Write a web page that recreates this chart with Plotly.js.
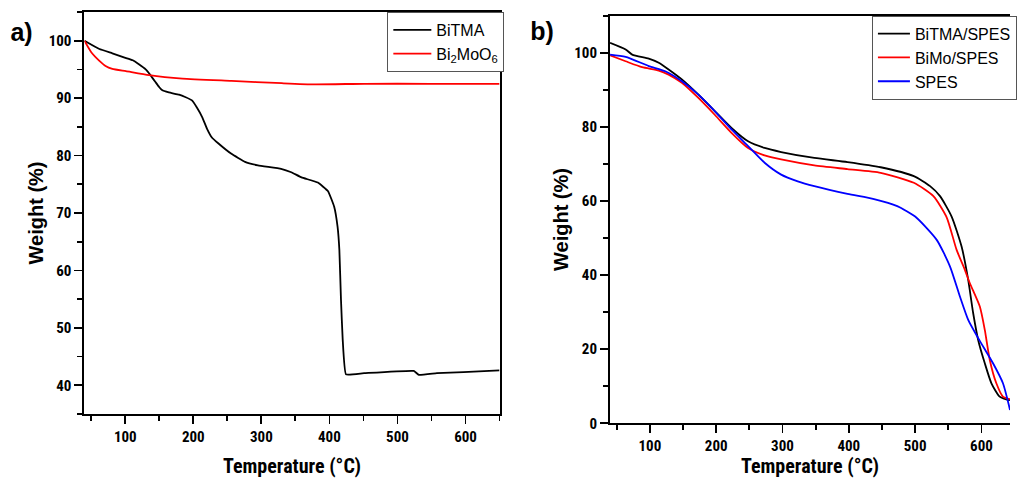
<!DOCTYPE html>
<html>
<head>
<meta charset="utf-8">
<script src="https://cdn.plot.ly/plotly-3.0.1.min.js"></script>
<style>
html,body{margin:0;padding:0;background:#fff;}
#wrap{position:relative;width:1017px;height:478px;}
#chart{width:1017px;height:478px;}
.panel{position:absolute;transform:translate(-50%,-50%);font-family:'Liberation Sans',Arial,sans-serif;font-weight:bold;font-size:25px;line-height:1;color:#000;}
</style>
</head>
<body>
<div id="wrap">
<div id="chart"></div>
<div class="panel" style="left:21.5px;top:32px;">a)</div>
<div class="panel" style="left:542px;top:31px;">b)</div>
</div>
<script>
// Panel a) TGA data
const tempBiTMA = [40, 62, 81, 98, 111, 120, 130, 137, 145, 150, 154, 164, 179, 188, 198, 205, 213, 220, 227, 237, 256, 276, 295, 329, 344, 359, 383, 398, 407, 412, 414.6, 417, 419.5, 424.3, 451, 524, 531.4, 558, 597, 650];
const wBiTMA    = [100, 98.55, 97.8, 97.1, 96.6, 95.9, 95.0, 94.0, 92.7, 91.9, 91.4, 91.0, 90.6, 90.2, 89.6, 88.4, 86.7, 84.7, 83.2, 82.1, 80.3, 78.9, 78.3, 77.7, 77.1, 76.2, 75.3, 73.8, 71.1, 67.6, 63.6, 54.9, 48.0, 41.9, 42.1, 42.5, 41.8, 42.1, 42.3, 42.6];
const tempBiMoO6 = [40, 50, 62, 71, 81, 101, 135, 184, 256, 330, 378, 451, 548, 650];
const wBiMoO6    = [100, 98.0, 96.5, 95.6, 95.1, 94.7, 94.0, 93.4, 93.0, 92.6, 92.4, 92.5, 92.5, 92.5];

// Panel b) TGA data
const tempBiTMASPES = [40, 63.5, 73.4, 98.4, 113.4, 128.3, 148.3, 173.2, 198.2, 223.1, 248.1, 273, 298, 348, 398, 448, 498, 522.5, 537.5, 555, 570, 580, 587.5, 595, 605, 615, 627.4, 639.8, 643];
const wBiTMASPES    = [102.7, 100.9, 99.5, 98.4, 97.3, 95.5, 92.8, 88.7, 84.2, 79.7, 76.1, 74.3, 73.2, 71.6, 70.5, 69.1, 66.7, 64.0, 61.3, 55.8, 47.7, 38.7, 29.7, 22.5, 16.2, 10.8, 7.2, 6.3, 6.3];
const tempBiMoSPES = [40, 63.5, 88.4, 113.4, 128.3, 148.3, 173.2, 198.2, 223.1, 248.1, 273, 298, 348, 398, 448, 498, 527.5, 547.5, 562.5, 575, 582.5, 597.5, 605, 612.5, 622.4, 632.4, 643];
const wBiMoSPES    = [99.3, 97.7, 96.1, 95.2, 94.1, 91.9, 87.8, 83.2, 78.4, 74.3, 72.3, 71.2, 69.6, 68.6, 67.6, 64.9, 61.3, 55.6, 46.8, 41.4, 37.8, 31.5, 25.2, 17.1, 10.8, 7.2, 6.5];
const tempSPES = [40, 63.5, 98.4, 123.3, 148.3, 173.2, 198.2, 223.1, 248.1, 273, 298, 323, 348, 398, 438, 473, 500, 532.5, 552.6, 567.5, 580, 595, 617.4, 632.4, 643];
const wSPES    = [99.5, 98.9, 96.4, 95.0, 92.3, 88.7, 84.2, 79.3, 74.8, 70.3, 67.1, 65.3, 64.0, 61.9, 60.5, 58.6, 55.8, 49.5, 42.3, 34.2, 27.9, 23.0, 16.2, 10.8, 3.6];

const xTitle = 'Temperature (°C)';
const yTitle = 'Weight (%)';

const FONT = 'Liberation Sans, Arial, sans-serif';
const NARROW = 'Roboto Condensed, Liberation Sans, sans-serif';

const traces = [
  {x: tempBiTMA, y: wBiTMA, name: 'BiTMA', xaxis: 'x', yaxis: 'y', mode: 'lines',
   line: {color: '#000000', width: 1.8, shape: 'spline', smoothing: 0.3}, legend: 'legend'},
  {x: tempBiMoO6, y: wBiMoO6, name: 'Bi<sub>2</sub>MoO<sub>6</sub>', xaxis: 'x', yaxis: 'y', mode: 'lines',
   line: {color: '#ff0000', width: 1.8, shape: 'spline', smoothing: 0.5}, legend: 'legend'},
  {x: tempBiTMASPES, y: wBiTMASPES, name: 'BiTMA/SPES', xaxis: 'x2', yaxis: 'y2', mode: 'lines',
   line: {color: '#000000', width: 1.8, shape: 'spline', smoothing: 0.6}, legend: 'legend2'},
  {x: tempBiMoSPES, y: wBiMoSPES, name: 'BiMo/SPES', xaxis: 'x2', yaxis: 'y2', mode: 'lines',
   line: {color: '#ff0000', width: 1.8, shape: 'spline', smoothing: 0.6}, legend: 'legend2'},
  {x: tempSPES, y: wSPES, name: 'SPES', xaxis: 'x2', yaxis: 'y2', mode: 'lines',
   line: {color: '#0000ff', width: 1.8, shape: 'spline', smoothing: 0.6}, legend: 'legend2'}
];

function xAxis(domain, anchor, range) {
  return {
    domain: domain, anchor: anchor, range: range, autorange: false,
    tick0: 0, dtick: 100, ticks: 'outside', ticklen: 8, tickwidth: 1.8, tickcolor: '#000',
    minor: {tick0: 0, dtick: 50, ticks: 'outside', ticklen: 5, tickwidth: 1.8, tickcolor: '#000'},
    showline: true, linewidth: 2, linecolor: '#000', mirror: true,
    showgrid: false, zeroline: false,
    tickfont: {family: NARROW, size: 15, color: '#000', weight: 'bold'},
    title: {text: xTitle, standoff: 15, font: {family: NARROW, size: 20, color: '#000', weight: 'bold'}}
  };
}
function yAxis(domain, anchor, range, dtick, mirror) {
  return {
    domain: domain, anchor: anchor, range: range, autorange: false,
    tick0: 0, dtick: dtick, ticks: 'outside', ticklen: 8, tickwidth: 1.8, tickcolor: '#000',
    minor: {tick0: 0, dtick: dtick / 2, ticks: 'outside', ticklen: 5, tickwidth: 1.8, tickcolor: '#000'},
    showline: true, linewidth: 2, linecolor: '#000', mirror: mirror,
    showgrid: false, zeroline: false,
    tickfont: {family: NARROW, size: 15, color: '#000', weight: 'bold'},
    title: {text: yTitle, standoff: 0, font: {family: FONT, size: 20, color: '#000', weight: 'bold'}}
  };
}

const layout = {
  width: 1017, height: 478,
  margin: {l: 0, r: 0, t: 0, b: 0},
  paper_bgcolor: '#fff', plot_bgcolor: '#fff',
  showlegend: true,
  font: {family: FONT, color: '#000'},
  xaxis: xAxis([0.0836, 0.4946], 'y', [40, 650]),
  yaxis: yAxis([0.1339, 0.9749], 'x', [35, 105], 10, true),
  xaxis2: xAxis([0.604, 1.0], 'y2', [40, 643]),
  yaxis2: yAxis([0.1144, 0.9672], 'x2', [0, 110], 20, false),
  legend: {x: 0.3835, y: 0.975, xanchor: 'left', yanchor: 'top', bgcolor: '#fff',
    bordercolor: '#555', borderwidth: 1, itemwidth: 38, font: {family: FONT, size: 16, color: '#000'}},
  legend2: {x: 0.8633, y: 0.967, xanchor: 'left', yanchor: 'top', bgcolor: '#fff',
    bordercolor: '#555', borderwidth: 1, itemwidth: 32, font: {family: FONT, size: 16, color: '#000'}}
};

Plotly.newPlot('chart', traces, layout, {staticPlot: true, displayModeBar: false});
</script>
</body>
</html>
